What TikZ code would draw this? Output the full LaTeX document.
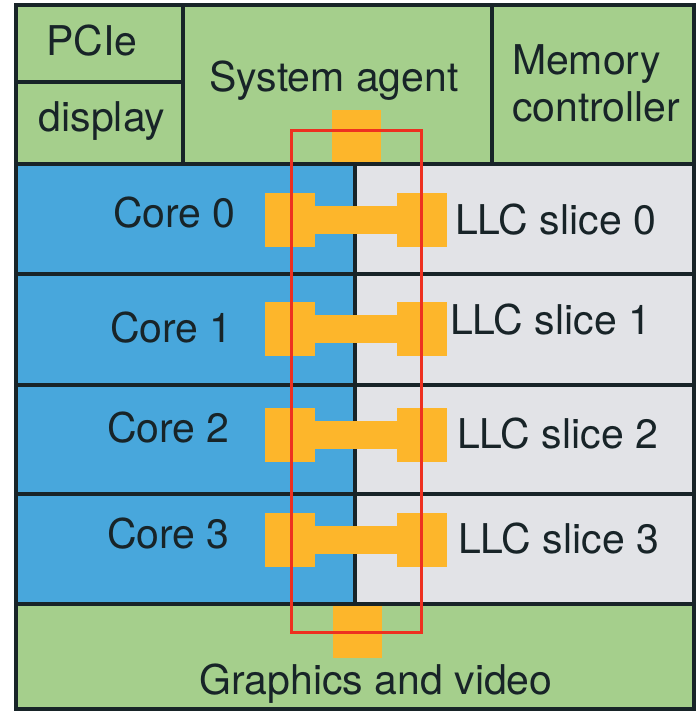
\documentclass[tikz,border=0pt]{standalone}
\usepackage{fontspec}
\setmainfont{TeX Gyre Heros}
\definecolor{agentgreen}{RGB}{165,207,140}
\definecolor{coreblue}{RGB}{72,167,220}
\definecolor{llcgray}{RGB}{226,227,231}
\definecolor{ringorange}{RGB}{253,182,43}
\definecolor{ringred}{RGB}{238,48,32}
\definecolor{edgedark}{RGB}{24,36,40}
\tikzset{
  cell/.style={draw=edgedark, line width=3.2pt},
  lbl/.style={inner sep=0pt, outer sep=0pt, text=edgedark,
    font=\fontsize{41}{46}\selectfont},
  stop/.style={fill=ringorange, draw=none, inner sep=0pt, outer sep=0pt,
    minimum width=50pt, minimum height=54pt},
  link/.style={draw=ringorange, line width=28pt},
  tap/.style={fill=ringorange, draw=none, inner sep=0pt, outer sep=0pt,
    minimum width=49pt, minimum height=52pt},
  ring/.style={draw=ringred, line width=3pt}
}
\begin{document}
\begin{tikzpicture}[x=1pt,y=-1pt]
\useasboundingbox (0,0) rectangle (696,713);

% uncore blocks along the top
\path[cell, fill=agentgreen] (16,5) rectangle (694,164);
\draw[cell] (183,5) -- (183,164);
\draw[cell] (16,82) -- (183,82);
\draw[cell] (492,5) -- (492,164);

% cores and LLC slices
\path[cell, fill=coreblue] (16,164) rectangle (355,604);
\path[cell, fill=llcgray] (355,164) rectangle (694,604);
\foreach \y in {274,385,494}
  \draw[cell] (16,\y) -- (694,\y);

% graphics block
\path[cell, fill=agentgreen] (16,604) rectangle (694,709);

% labels
\node[lbl, anchor=base] (pcie) at (92,55) {PCIe};
\node[lbl, anchor=base] (disp) at (102,131) {display};
\node[lbl, anchor=base] (sa) at (334,91) {System agent};
\node[lbl, anchor=base west] (mem1) at (512,74) {Memory};
\node[lbl, anchor=base west] (mem2) at (512,121) {controller};
\node[lbl, anchor=base] (gfx) at (376,694) {Graphics and video};

\node[lbl, anchor=base west] (core0) at (113,227) {Core 0};
\node[lbl, anchor=base west] (core1) at (110,342) {Core 1};
\node[lbl, anchor=base west] (core2) at (107,442) {Core 2};
\node[lbl, anchor=base west] (core3) at (107,548) {Core 3};

\node[lbl, anchor=base west] (llc0) at (455,234) {LLC slice 0};
\node[lbl, anchor=base west] (llc1) at (450,334) {LLC slice 1};
\node[lbl, anchor=base west] (llc2) at (457,448) {LLC slice 2};
\node[lbl, anchor=base west] (llc3) at (458,553) {LLC slice 3};

% ring stops: core side and slice side, joined by a link
\foreach \i/\yc in {0/220,1/329,2/434.5,3/540} {
  \node[stop] (cs\i) at (290,\yc) {};
  \node[stop] (ls\i) at (422,\yc) {};
  \draw[link] (cs\i.east) -- (ls\i.west);
}

% ring stops of the system agent and the graphics block
\node[tap] (satap) at (356.5,136) {};
\node[tap] (gfxtap) at (357,632) {};

% ring outline
\node[ring, inner sep=0pt, minimum width=130pt, minimum height=502pt] (ringbox) at (356,381) {};
\end{tikzpicture}
\end{document}
